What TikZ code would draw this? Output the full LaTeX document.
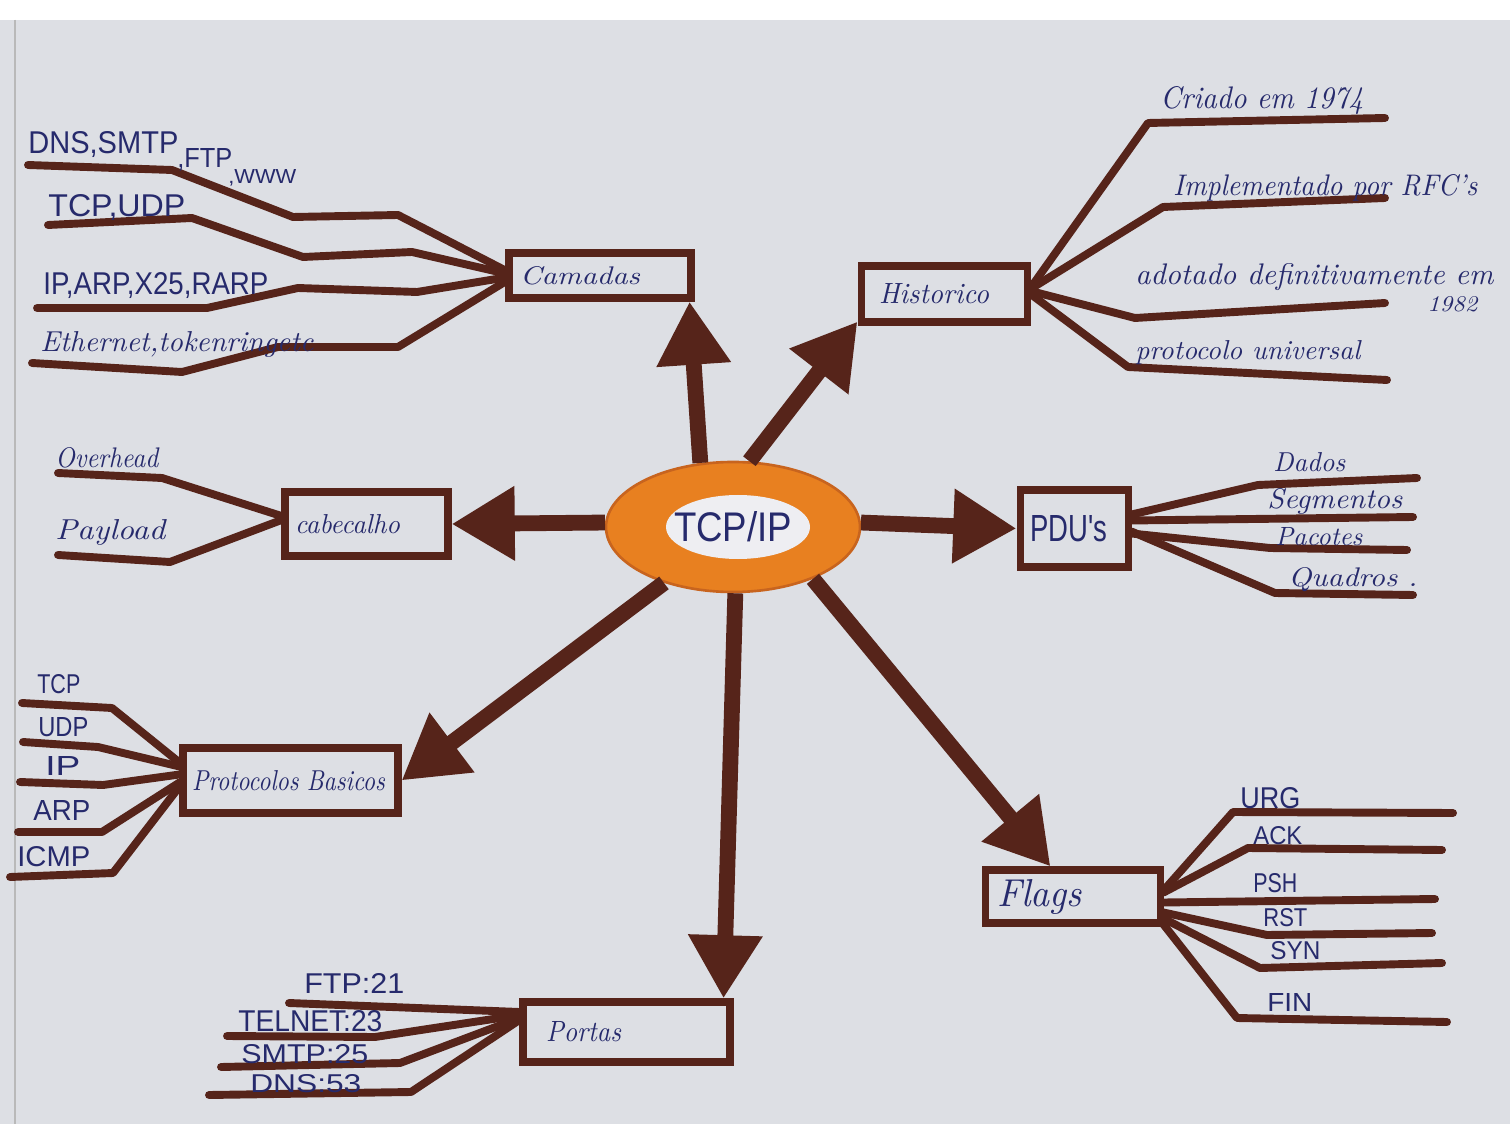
\documentclass[tikz,border=0pt]{standalone}
\usepackage{fontspec}
\usetikzlibrary{arrows.meta,shapes.geometric,calc}
\newfontfamily\printfont{Liberation Sans}
\newlength\pxu \setlength\pxu{0.02cm}
\newcommand\fitw[3]{\resizebox{#1\pxu}{#2\pxu}{#3}}
\definecolor{paper}{RGB}{221,223,228}
\definecolor{ink}{RGB}{86,36,26}
\definecolor{blueink}{RGB}{38,42,108}
\definecolor{orng}{RGB}{232,128,32}
\definecolor{orngdark}{RGB}{200,100,30}
\definecolor{innerw}{RGB}{238,238,242}
\begin{document}
\begin{tikzpicture}[x=0.02cm,y=-0.02cm,
  box/.style={draw=ink, line width=4pt, rectangle, align=left, text=blueink, inner ysep=0pt},
  br/.style={draw=ink, line width=4.5pt, line cap=round, line join=round},
  big/.style={draw=ink, line width=9pt, -{Triangle[length=36pt,width=40pt]}},
  lbl/.style={anchor=west, inner sep=0pt, text=blueink}]
\fill[paper] (0,0) rectangle (1510,1124);
\fill[white] (0,0) rectangle (1510,20);
\useasboundingbox (0,0) rectangle (1510,1124);
\draw[gray!55, line width=0.8pt] (15,20) -- (15,1124);

% central node
\node[ellipse, fill=orng, draw=orngdark, line width=1.5pt, minimum width=254\pxu, minimum height=130\pxu, inner sep=0pt, text=blueink,
  path picture={\fill[innerw] ([xshift=5\pxu]path picture bounding box.center) ellipse [x radius=72\pxu, y radius=32\pxu];}]
  (tcp) at (733,527) {\printfont\fitw{118}{30}{TCP/IP}};

% boxes
\node[box, minimum width=182\pxu, minimum height=45\pxu, inner xsep=11\pxu, text width=160\pxu] (camadas) at (600,275.5) {\fitw{120}{18}{\itshape Camadas}};
\node[box, minimum width=166\pxu, minimum height=56\pxu, inner xsep=18\pxu, text width=130\pxu] (historico) at (944,294) {\fitw{110}{20}{\itshape Historico}};
\node[box, minimum width=163\pxu, minimum height=64\pxu, inner xsep=10\pxu, text width=143\pxu] (cabecalho) at (366.5,524) {\fitw{105}{19}{\itshape cabecalho}};
\node[box, minimum width=108\pxu, minimum height=77\pxu, inner xsep=10\pxu, text width=88\pxu] (pdus) at (1074,528.5) {\printfont\fitw{77}{26}{PDU's}};
\node[box, minimum width=215\pxu, minimum height=65\pxu, inner xsep=9\pxu, text width=197\pxu] (protocolos) at (290.5,780.5) {\fitw{193}{20}{\itshape Protocolos Basicos}};
\node[box, minimum width=175\pxu, minimum height=53\pxu, inner xsep=12\pxu, text width=151\pxu] (flags) at (1072.5,896.5) {\fitw{85}{27}{\itshape Flags}};
\node[box, minimum width=207\pxu, minimum height=60\pxu, inner xsep=23\pxu, text width=161\pxu] (portas) at (626.5,1032) {\fitw{75}{20}{\itshape Portas}};

% arrows from centre
\draw[big] (tcp.117) -- ([xshift=-5\pxu]camadas.south east);
\draw[big] (tcp.76) -- ([yshift=4\pxu]historico.south west);
\draw[big] (tcp.178) -- (cabecalho.east);
\draw[big] (tcp.2) -- (pdus.west);
\draw[big] (tcp.219) -- (protocolos.east);
\draw[big] (tcp.272) -- ([xshift=-10\pxu]portas.north east);
\draw[big] (tcp.327) -- ([xshift=-22\pxu]flags.north);

% Camadas branches
\draw[br] ([yshift=5\pxu]camadas.west) -- (398,215) -- (293,217) -- (172,170) -- (28,165);
\draw[br] ([yshift=2\pxu]camadas.west) -- (412,252) -- (303,257) -- (192,218) -- (48,225);
\draw[br] ([yshift=-2\pxu]camadas.west) -- (417,292) -- (298,288) -- (207,308) -- (37,308);
\draw[br] ([yshift=-6\pxu]camadas.west) -- (398,347) -- (278,347) -- (182,372) -- (32,363);
\node[lbl] (l-dns) at (28,145) {\printfont\fitw{150}{22}{DNS,SMTP}};
\node[lbl] (l-ftp) at (177,160) {\printfont\fitw{55}{19}{,FTP}};
\node[lbl] (l-www) at (228,178) {\printfont\fitw{68}{14}{,WWW}};
\node[lbl] (l-tcpudp) at (48,208) {\printfont\fitw{137}{22}{TCP,UDP}};
\node[lbl] (l-ip) at (43,286) {\printfont\fitw{225}{22}{IP,ARP,X25,RARP}};
\node[lbl] (l-eth) at (40,344) {\fitw{273}{20}{\itshape Ethernet,tokenringetc}};

% Historico branches
\draw[br] ([yshift=6\pxu]historico.east) -- (1148,123) -- (1385,118);
\draw[br] ([yshift=5\pxu]historico.east) -- (1163,207) -- (1385,198);
\draw[br] ([yshift=3\pxu]historico.east) -- (1135,318) -- (1385,303);
\draw[br] (historico.east) -- (1128,367) -- (1387,380);
\node[lbl] (l-criado) at (1160,101) {\fitw{203}{22}{\itshape Criado em 1974}};
\node[lbl] (l-impl) at (1173,188) {\fitw{304}{21}{\itshape Implementado por RFC's}};
\node[lbl] (l-adot) at (1135,277) {\fitw{358}{21}{\itshape adotado definitivamente em}};
\node[lbl] (l-1982) at (1427,304) {\fitw{50}{15}{\itshape 1982}};
\node[lbl] (l-univ) at (1135,353) {\fitw{225}{19}{\itshape protocolo universal}};

% cabecalho branches
\draw[br] ([yshift=8\pxu]cabecalho.west) -- (162,478) -- (58,473);
\draw[br] ([yshift=4\pxu]cabecalho.west) -- (170,562) -- (58,555);
\node[lbl] (l-over) at (55,458) {\fitw{103}{20}{\itshape Overhead}};
\node[lbl] (l-pay) at (55,532) {\fitw{110}{20}{\itshape Payload}};

% PDU branches
\draw[br] ([yshift=14\pxu]pdus.east) -- (1258,485) -- (1417,478);
\draw[br] ([yshift=8\pxu]pdus.east) -- (1413,517);
\draw[br] ([yshift=-5\pxu]pdus.east) -- (1270,548) -- (1407,550);
\draw[br] ([yshift=-3\pxu]pdus.east) -- (1275,593) -- (1413,595);
\node[lbl] (l-dados) at (1273,462) {\fitw{72}{19}{\itshape Dados}};
\node[lbl] (l-seg) at (1267,501) {\fitw{135}{20}{\itshape Segmentos}};
\node[lbl] (l-pac) at (1275,537) {\fitw{87}{18}{\itshape Pacotes}};
\node[lbl] (l-quad) at (1288,580) {\fitw{129}{19}{\itshape Quadros .}};

% Protocolos branches
\draw[br] ([yshift=18\pxu]protocolos.west) -- (112,708) -- (22,703);
\draw[br] ([yshift=14\pxu]protocolos.west) -- (98,747) -- (23,742);
\draw[br] ([yshift=6\pxu]protocolos.west) -- (103,785) -- (20,782);
\draw[br] ([yshift=-2\pxu]protocolos.west) -- (102,832) -- (18,832);
\draw[br] ([yshift=-6\pxu]protocolos.west) -- (113,873) -- (10,877);
\node[lbl] (p-tcp) at (37,684) {\printfont\fitw{43}{19}{TCP}};
\node[lbl] (p-udp) at (38,727) {\printfont\fitw{50}{19}{UDP}};
\node[lbl] (p-ip) at (45,766) {\printfont\fitw{35}{19}{IP}};
\node[lbl] (p-arp) at (33,810) {\printfont\fitw{57}{20}{ARP}};
\node[lbl] (p-icmp) at (17,857) {\printfont\fitw{73}{20}{ICMP}};

% Flags branches
\draw[br] ([yshift=6\pxu]flags.east) -- (1233,812) -- (1453,813);
\draw[br] ([yshift=4\pxu]flags.east) -- (1248,848) -- (1442,850);
\draw[br] ([yshift=-6\pxu]flags.east) -- (1435,899);
\draw[br] ([yshift=-16\pxu]flags.east) -- (1267,935) -- (1432,933);
\draw[br] ([yshift=-22\pxu]flags.east) -- (1260,968) -- (1442,963);
\draw[br] ([yshift=-28\pxu]flags.east) -- (1237,1018) -- (1447,1022);
\node[lbl] (f-urg) at (1240,798) {\printfont\fitw{60}{21}{URG}};
\node[lbl] (f-ack) at (1253,836) {\printfont\fitw{49}{18}{ACK}};
\node[lbl] (f-psh) at (1253,883) {\printfont\fitw{44}{19}{PSH}};
\node[lbl] (f-rst) at (1263,918) {\printfont\fitw{44}{18}{RST}};
\node[lbl] (f-syn) at (1270,951) {\printfont\fitw{50}{18}{SYN}};
\node[lbl] (f-fin) at (1267,1002) {\printfont\fitw{45}{18}{FIN}};

% Portas branches
\draw[br] ([yshift=20\pxu]portas.west) -- (289,1003);
\draw[br] ([yshift=17\pxu]portas.west) -- (375,1037) -- (227,1036);
\draw[br] ([yshift=14\pxu]portas.west) -- (400,1063) -- (221,1067);
\draw[br] ([yshift=12\pxu]portas.west) -- (411,1092) -- (209,1095);
\node[lbl] (t-ftp) at (304,983) {\printfont\fitw{100}{20}{FTP:21}};
\node[lbl] (t-tel) at (238,1021) {\printfont\fitw{144}{21}{TELNET:23}};
\node[lbl] (t-smtp) at (241,1054) {\printfont\fitw{127}{19}{SMTP:25}};
\node[lbl] (t-dns) at (250,1084) {\printfont\fitw{111}{18}{DNS:53}};
\end{tikzpicture}
\end{document}
